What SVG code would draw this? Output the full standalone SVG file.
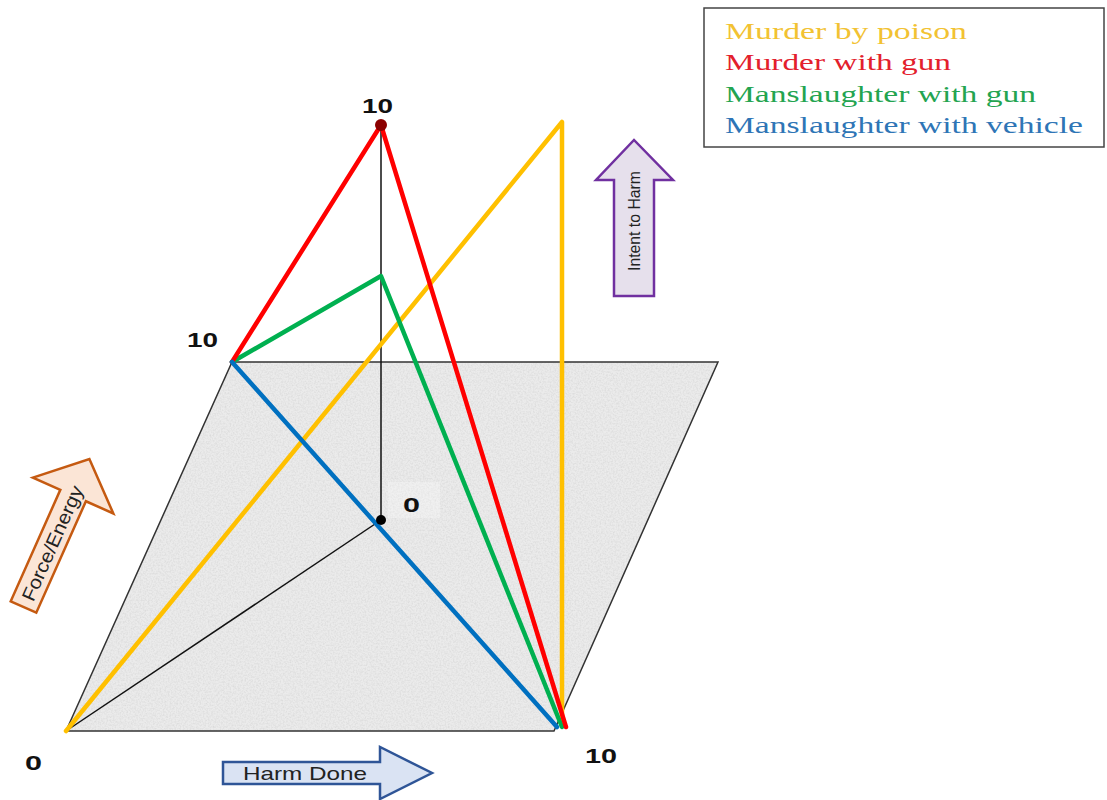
<svg xmlns="http://www.w3.org/2000/svg" width="1107" height="800" viewBox="0 0 1107 800">
  <style>
    .num { font-family: "Liberation Sans", Arial, sans-serif; font-weight: bold; font-size: 21px; fill: #111; }
    .leg { font-family: "Liberation Serif", "Times New Roman", serif; font-size: 23px; }
    .axis { font-family: "Liberation Sans", Arial, sans-serif; fill: #222; }
    .thin { stroke: #111; stroke-width: 1.5; fill: none; }
    .ln { stroke-width: 4.5; fill: none; stroke-linecap: round; stroke-linejoin: round; }
  </style>
  <defs>
    <filter id="grain" x="0" y="0" width="1" height="1">
      <feTurbulence type="fractalNoise" baseFrequency="0.6" numOctaves="2" seed="3" result="n"/>
      <feColorMatrix in="n" type="matrix" values="0 0 0 0 0.6  0 0 0 0 0.6  0 0 0 0 0.6  0 0 0 1.2 -0.45" result="g"/>
      <feComposite in="g" in2="SourceGraphic" operator="in"/>
    </filter>
  </defs>
  <rect width="1107" height="800" fill="#ffffff"/>

  <!-- plane -->
  <g id="plane">
    <polygon points="66,731 554,731 718,362 232,362" fill="#ebebeb"/>
    <polygon points="66,731 554,731 718,362 232,362" fill="#ffffff" filter="url(#grain)" opacity="0.8"/>
    <polygon points="66,731 554,731 718,362 232,362" fill="none" stroke="#333" stroke-width="1.5"/>
    <rect x="388" y="482" width="52" height="36" fill="#ffffff" opacity="0.25"/>
  </g>

  <!-- connectors -->
  <g id="connectors">
    <line class="thin" x1="381" y1="125" x2="381" y2="520"/>
    <line class="thin" x1="381" y1="520" x2="66" y2="731"/>
    <polyline class="ln" stroke="#ffc000" points="66,731 562,122 562,726"/>
    <polyline class="ln" stroke="#00b050" points="232,362 381,276 562,727"/>
    <polyline class="ln" stroke="#ff0000" points="232,362 381,125 566,727"/>
    <line class="ln" stroke="#0070c0" x1="232" y1="362" x2="557" y2="727"/>
    <circle cx="381" cy="125" r="6" fill="#8b0000"/>
    <circle cx="381" cy="520" r="5" fill="#000"/>
  </g>

  <!-- value labels -->
  <g id="labels">
    <text class="num" x="362" y="113" textLength="31" lengthAdjust="spacingAndGlyphs">10</text>
    <text class="num" x="187" y="347" textLength="31" lengthAdjust="spacingAndGlyphs">10</text>
    <text class="num" x="403" y="512" textLength="17" lengthAdjust="spacingAndGlyphs">0</text>
    <text class="num" x="25" y="770" textLength="17" lengthAdjust="spacingAndGlyphs">0</text>
    <text class="num" x="585" y="763" textLength="32" lengthAdjust="spacingAndGlyphs">10</text>
  </g>

  <!-- Force/Energy arrow -->
  <g id="force-energy" transform="translate(23.5,607) rotate(24)">
    <polygon points="-14,0 14,0 14,-122 44,-122 0,-162 -44,-122 -14,-122" fill="#fbe5d6" stroke="#c55a11" stroke-width="2.5" stroke-linejoin="miter"/>
    <text class="axis" font-size="19" transform="translate(7,-70) rotate(-90)" text-anchor="middle" textLength="124" lengthAdjust="spacingAndGlyphs">Force/Energy</text>
  </g>

  <!-- Intent to Harm arrow -->
  <g id="intent-to-harm">
    <polygon points="614,296 654,296 654,180 673,180 634,140 596,180 614,180" fill="#e6e0ec" stroke="#7030a0" stroke-width="2.5"/>
    <text class="axis" font-size="17" transform="translate(640,221) rotate(-90)" text-anchor="middle" textLength="100" lengthAdjust="spacingAndGlyphs">Intent to Harm</text>
  </g>

  <!-- Harm Done arrow -->
  <g id="harm-done">
    <polygon points="223,762 380,762 380,747 432,773 380,799 380,784 223,784" fill="#dae3f3" stroke="#2f5597" stroke-width="2.5"/>
    <text class="axis" font-size="19" x="243" y="780" textLength="124" lengthAdjust="spacingAndGlyphs">Harm Done</text>
  </g>

  <!-- legend -->
  <g id="legend">
    <rect x="704" y="8" width="400" height="139" fill="#ffffff" stroke="#444" stroke-width="1.5"/>
    <text class="leg" x="725" y="39" fill="#f2c232" textLength="242" lengthAdjust="spacingAndGlyphs">Murder by poison</text>
    <text class="leg" x="725" y="70" fill="#e3202c" textLength="226" lengthAdjust="spacingAndGlyphs">Murder with gun</text>
    <text class="leg" x="725" y="102" fill="#23a450" textLength="311" lengthAdjust="spacingAndGlyphs">Manslaughter with gun</text>
    <text class="leg" x="725" y="133" fill="#2e75b6" textLength="358" lengthAdjust="spacingAndGlyphs">Manslaughter with vehicle</text>
  </g>
</svg>
